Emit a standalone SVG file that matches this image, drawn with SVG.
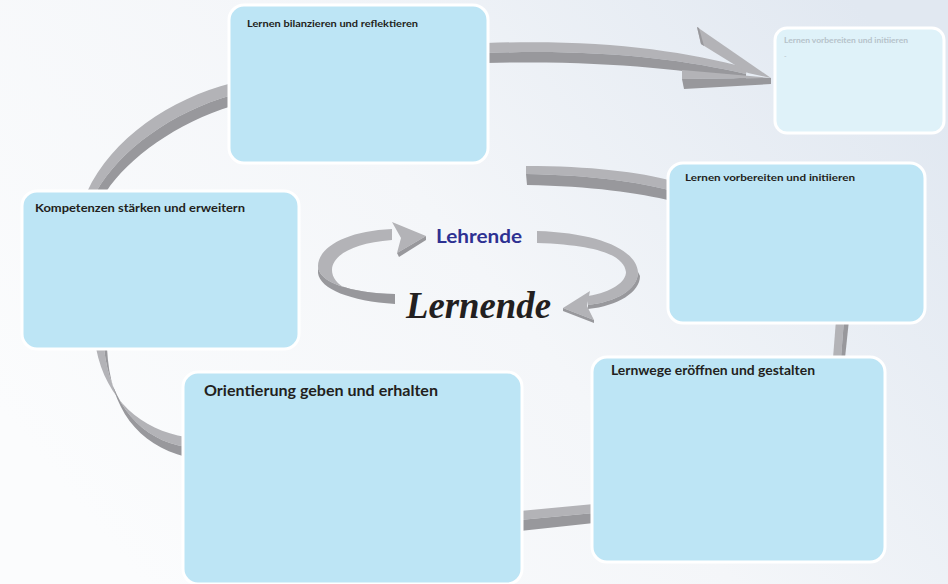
<svg xmlns="http://www.w3.org/2000/svg" width="948" height="584" viewBox="0 0 948 584">
<defs>
<linearGradient id="bg" x1="0" y1="0.7" x2="1" y2="0.2">
<stop offset="0" stop-color="#fbfcfd"/>
<stop offset="0.5" stop-color="#f4f6f9"/>
<stop offset="1" stop-color="#e1e8f1"/>
</linearGradient>
<style>
.box{fill:#bde5f5;stroke:#ffffff;stroke-width:3}
.faded{fill:#dff2f9;stroke:#ffffff;stroke-width:3}
.lt{fill:#b3b3b7}
.dk{fill:#98989c}
.t{font-family:Lato,"Open Sans","Liberation Sans",sans-serif;font-weight:bold;fill:#231f20}
</style>
</defs>
<rect width="948" height="584" fill="url(#bg)"/>
<g id="connectors">
<!-- left upper arc -->
<path class="lt" d="M232,83 C170,99 112,138 87,192 L96,192 C120,150 172,112 232,95 Z"/>
<path class="dk" d="M232,95 C172,112 120,150 96,192 L106,192 C128,158 178,122 232,106 Z"/>
<!-- top arrow shaft -->
<path class="lt" d="M486,43 C600,39 680,50 748,68 L746,74 C680,59 600,49 486,53 Z"/>
<path class="dk" d="M486,53 C600,49 680,59 746,74 L746,80 C680,69 600,60 486,63 Z"/>
<!-- top arrow head -->
<path class="lt" d="M682,70 L771,78 L682,79 Z"/>
<path class="dk" d="M682,79 L771,78 L771,84 L684,89 Z"/>
<path class="lt" d="M697,27 L771,78 L748,73 L701,44 Z"/>
<path class="dk" d="M697,27 L701,44 L704,46 L699,28 Z"/>
<!-- second band -->
<path class="lt" d="M526,166 C590,166 640,172 672,181 L672,191 C640,182 590,175 526,174 Z"/>
<path class="dk" d="M526,174 C590,175 640,182 672,191 L672,201 C640,193 590,186 527,185 Z"/>
<!-- right band -->
<path class="lt" d="M836,320 L844,320 L841,358 L833,358 Z"/>
<path class="dk" d="M844,320 L849,320 L845,358 L841,358 Z"/>
<!-- bottom band -->
<path class="lt" d="M520,511 L594,504 L594,513 L520,520 Z"/>
<path class="dk" d="M520,520 L594,513 L594,523 L520,531 Z"/>
<!-- lower left arc -->
<path class="lt" d="M96,348 C106,400 142,430 186,437 L186,447 C142,440 110,405 104,348 Z"/>
<path class="dk" d="M104,348 C110,405 142,440 186,447 L186,457 C138,444 110,410 107,348 Z"/>
<!-- inner left ribbon -->
<path class="lt" d="M392,229 C345,231 318,248 318,266 C318,282 350,293 395,294 L395,298 C352,297 332,285 332,270 C332,256 352,243 392,240 Z"/>
<path class="dk" d="M395,294 C350,293 318,282 318,266 L318,273 C320,289 350,301 395,304 Z"/>
<path class="lt" d="M392,222 L426,236 L397,253 L401,238 Z"/>
<path class="dk" d="M397,253 L426,236 L426,240 L399,257 Z"/>
<!-- inner right ribbon -->
<path class="lt" d="M537,231 C600,233 636,250 638,272 C638,290 615,302 588,305 L588,296 C612,292 626,282 626,272 C624,256 600,245 537,243 Z"/>
<path class="dk" d="M638,272 C638,290 615,302 588,305 L588,309 C618,306 640,292 640,276 Z"/>
<path class="lt" d="M590,291 L563,308 L594,320 L587,306 Z"/>
<path class="dk" d="M563,308 L594,320 L594,323 L563,311 Z"/>
</g>
<g id="center">
<text x="436" y="243" font-family="Lato,'Open Sans','Liberation Sans',sans-serif" font-weight="bold" font-size="18" fill="#2e3192" textLength="86" lengthAdjust="spacingAndGlyphs">Lehrende</text>
<text x="406" y="318" font-family="'Liberation Serif','Times New Roman',serif" font-weight="bold" font-style="italic" font-size="37" fill="#231f20" textLength="145" lengthAdjust="spacingAndGlyphs">Lernende</text>
</g>
<g id="node-bilanzieren">
<rect class="box" x="229" y="5" width="259" height="158" rx="15"/>
<text class="t" x="247" y="27" font-size="9.5" textLength="171" lengthAdjust="spacingAndGlyphs">Lernen bilanzieren und reflektieren</text>
</g>
<g id="node-faded">
<rect class="faded" x="775" y="28" width="169" height="105" rx="12"/>
<text x="784" y="43" font-family="Lato,'Open Sans','Liberation Sans',sans-serif" font-weight="bold" font-size="7" fill="#b6c2ca" textLength="124" lengthAdjust="spacingAndGlyphs">Lernen vorbereiten und initiieren</text>
<text x="784" y="59" font-family="Lato,'Liberation Sans',sans-serif" font-size="7" fill="#b6c2ca">-</text>
</g>
<g id="node-vorbereiten">
<rect class="box" x="668" y="163" width="257" height="160" rx="15"/>
<text class="t" x="685" y="181" font-size="9.5" textLength="170" lengthAdjust="spacingAndGlyphs">Lernen vorbereiten und initiieren</text>
</g>
<g id="node-kompetenzen">
<rect class="box" x="22" y="191" width="277" height="158" rx="15"/>
<text class="t" x="35" y="212" font-size="12" textLength="210" lengthAdjust="spacingAndGlyphs">Kompetenzen stärken und erweitern</text>
</g>
<g id="node-lernwege">
<rect class="box" x="592" y="357" width="293" height="205" rx="15"/>
<text class="t" x="611" y="375" font-size="12.5" textLength="204" lengthAdjust="spacingAndGlyphs">Lernwege eröffnen und gestalten</text>
</g>
<g id="node-orientierung">
<rect class="box" x="183" y="372" width="339" height="212" rx="15"/>
<text class="t" x="204" y="396" font-size="14.5" textLength="234" lengthAdjust="spacingAndGlyphs">Orientierung geben und erhalten</text>
</g>
</svg>
